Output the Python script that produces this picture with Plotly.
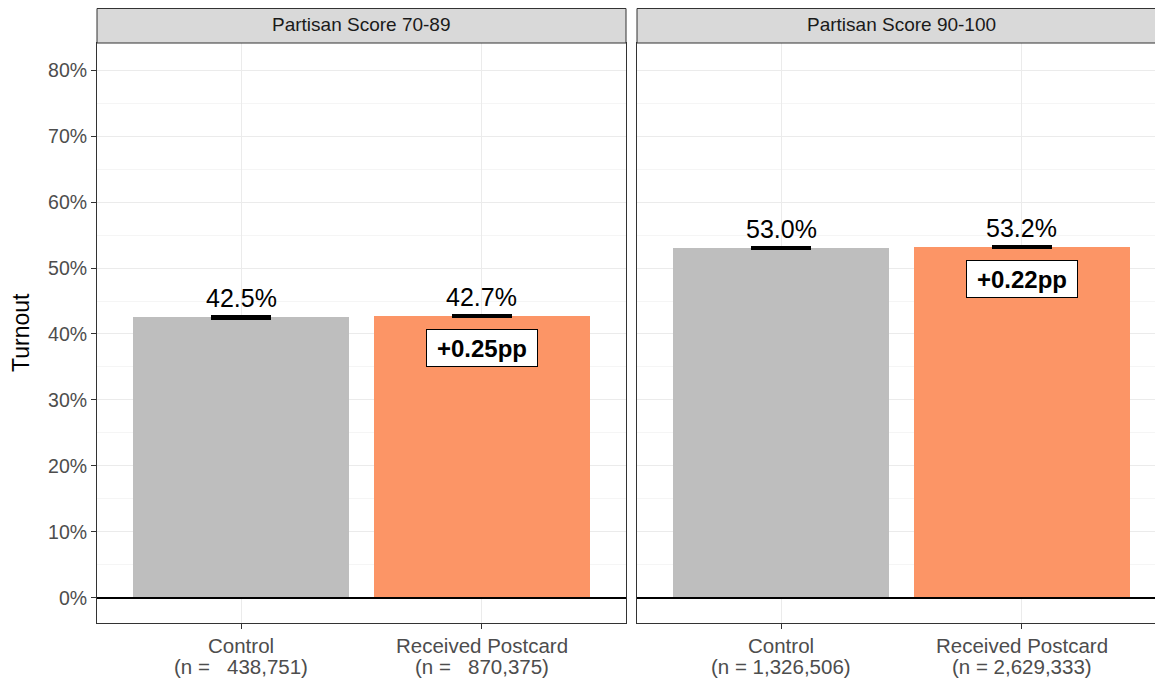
import plotly.graph_objects as go

panels = ["Partisan Score 70-89", "Partisan Score 90-100"]
groups = ["Control", "Received Postcard"]
n_labels = [["438,751", "870,375"], ["1,326,506", "2,629,333"]]
n_pad = [["\u00a0\u00a0\u00a0", "\u00a0\u00a0\u00a0"], ["\u00a0", "\u00a0"]]
turnout = [[0.425, 0.4275], [0.530, 0.5322]]
value_labels = [["42.5%", "42.7%"], ["53.0%", "53.2%"]]
se = [[0.0004, 0.0004], [0.0004, 0.0004]]
effects = ["+0.25pp", "+0.22pp"]
colors = ["#bebebe", "#fc9566"]

FONT = "Liberation Sans, Arial, sans-serif"
OFF = 8  # default page body margin
W, H = 1163 - OFF, 679 - OFF

def px_x(p):
    return (p - OFF) / W

def px_y(p):
    return 1 - (p - OFF) / H

x_domains = [[px_x(97), px_x(626)], [px_x(637), 1.0]]
y_domain = [px_y(623), px_y(43)]
x_ranges = [[0.4, 2.6], [0.4, 0.4 + (1163 - 637) / (529 / 2.2)]]

fig = go.Figure()
for i in range(2):
    xa = "x" if i == 0 else "x2"
    ya = "y" if i == 0 else "y2"
    fig.add_trace(go.Bar(
        x=[1, 2], y=turnout[i], width=0.9,
        marker=dict(color=colors, line=dict(width=0)),
        error_y=dict(type="data", array=se[i], color="black", thickness=3.5, width=30),
        xaxis=xa, yaxis=ya, showlegend=False, hoverinfo="skip",
    ))
    for j in range(2):
        fig.add_annotation(
            x=j + 1, y=turnout[i][j], xref=xa, yref=ya,
            text=value_labels[i][j], showarrow=False,
            xanchor="center", yanchor="bottom", yshift=3,
            font=dict(family=FONT, size=25, color="black"),
        )
        # category labels (two lines)
        fig.add_annotation(
            x=j + 1, y=px_y(645), xref=xa, yref="paper",
            text=groups[j], showarrow=False,
            xanchor="center", yanchor="middle",
            font=dict(family=FONT, size=20.5, color="#4d4d4d"),
        )
        fig.add_annotation(
            x=j + 1, y=px_y(666), xref=xa, yref="paper",
            text="(n =" + n_pad[i][j] + n_labels[i][j] + ")", showarrow=False,
            xanchor="center", yanchor="middle",
            font=dict(family=FONT, size=20.5, color="#4d4d4d"),
        )
    fig.add_annotation(
        x=2, y=turnout[i][1], xref=xa, yref=ya,
        text="<b>" + effects[i] + "</b>", showarrow=False,
        xanchor="center", yanchor="top", yshift=-13,
        width=104, height=30,
        font=dict(family=FONT, size=24, color="black"),
        bgcolor="white", bordercolor="black", borderwidth=1, borderpad=3,
    )
    # strip
    fig.add_shape(type="rect", xref="paper", yref="paper",
                  x0=x_domains[i][0], x1=x_domains[i][1] + (0 if i == 0 else 0.01),
                  y0=px_y(43), y1=px_y(8.5),
                  fillcolor="#d9d9d9", line=dict(color="#333333", width=1), layer="above")
    fig.add_annotation(
        x=(x_domains[i][0] + (x_domains[i][1] if i == 0 else px_x(637 + 529))) / 2,
        y=px_y(25), xref="paper", yref="paper",
        text=panels[i], showarrow=False,
        xanchor="center", yanchor="middle",
        font=dict(family=FONT, size=19, color="#1a1a1a"),
    )
    # zero line
    fig.add_shape(type="line", xref=xa + " domain", yref=ya,
                  x0=0, x1=1, y0=0, y1=0, line=dict(color="black", width=2), layer="above")

for i in range(2):
    xkey = "xaxis" if i == 0 else "xaxis2"
    ykey = "yaxis" if i == 0 else "yaxis2"
    fig.layout[xkey] = dict(
        domain=x_domains[i], range=x_ranges[i], anchor="y" if i == 0 else "y2",
        tickvals=[1, 2], showticklabels=False, automargin=False,
        showgrid=True, gridcolor="#ebebeb", gridwidth=1,
        ticks="outside", ticklen=5, tickcolor="#333333",
        showline=True, linecolor="#333333", linewidth=1, mirror=True,
        zeroline=False, fixedrange=True,
    )
    fig.layout[ykey] = dict(
        domain=y_domain, range=[-0.038, 0.841], anchor="x" if i == 0 else "x2",
        tickvals=[0, 0.1, 0.2, 0.3, 0.4, 0.5, 0.6, 0.7, 0.8],
        ticktext=["0%", "10%", "20%", "30%", "40%", "50%", "60%", "70%", "80%"],
        showticklabels=(i == 0), automargin=False,
        showgrid=True, gridcolor="#ebebeb", gridwidth=1,
        minor=dict(tickvals=[0.05, 0.15, 0.25, 0.35, 0.45, 0.55, 0.65, 0.75],
                   showgrid=True, gridcolor="#f5f5f5", gridwidth=1),
        ticks="outside" if i == 0 else "", ticklen=5, tickcolor="#333333",
        tickfont=dict(family=FONT, size=19.5, color="#4d4d4d"),
        showline=True, linecolor="#333333", linewidth=1, mirror=(i == 0),
        zeroline=False, fixedrange=True,
    )

fig.add_annotation(
    x=px_x(21), y=(y_domain[0] + y_domain[1]) / 2, xref="paper", yref="paper",
    text="Turnout", textangle=-90, showarrow=False,
    xanchor="center", yanchor="middle", borderpad=0,
    font=dict(family=FONT, size=23, color="black"),
)

fig.update_layout(
    width=W, height=H,
    margin=dict(l=0, r=0, t=0, b=0),
    plot_bgcolor="white", paper_bgcolor="white",
    font=dict(family=FONT),
    bargap=0,
)

fig.write_html("out.html")
